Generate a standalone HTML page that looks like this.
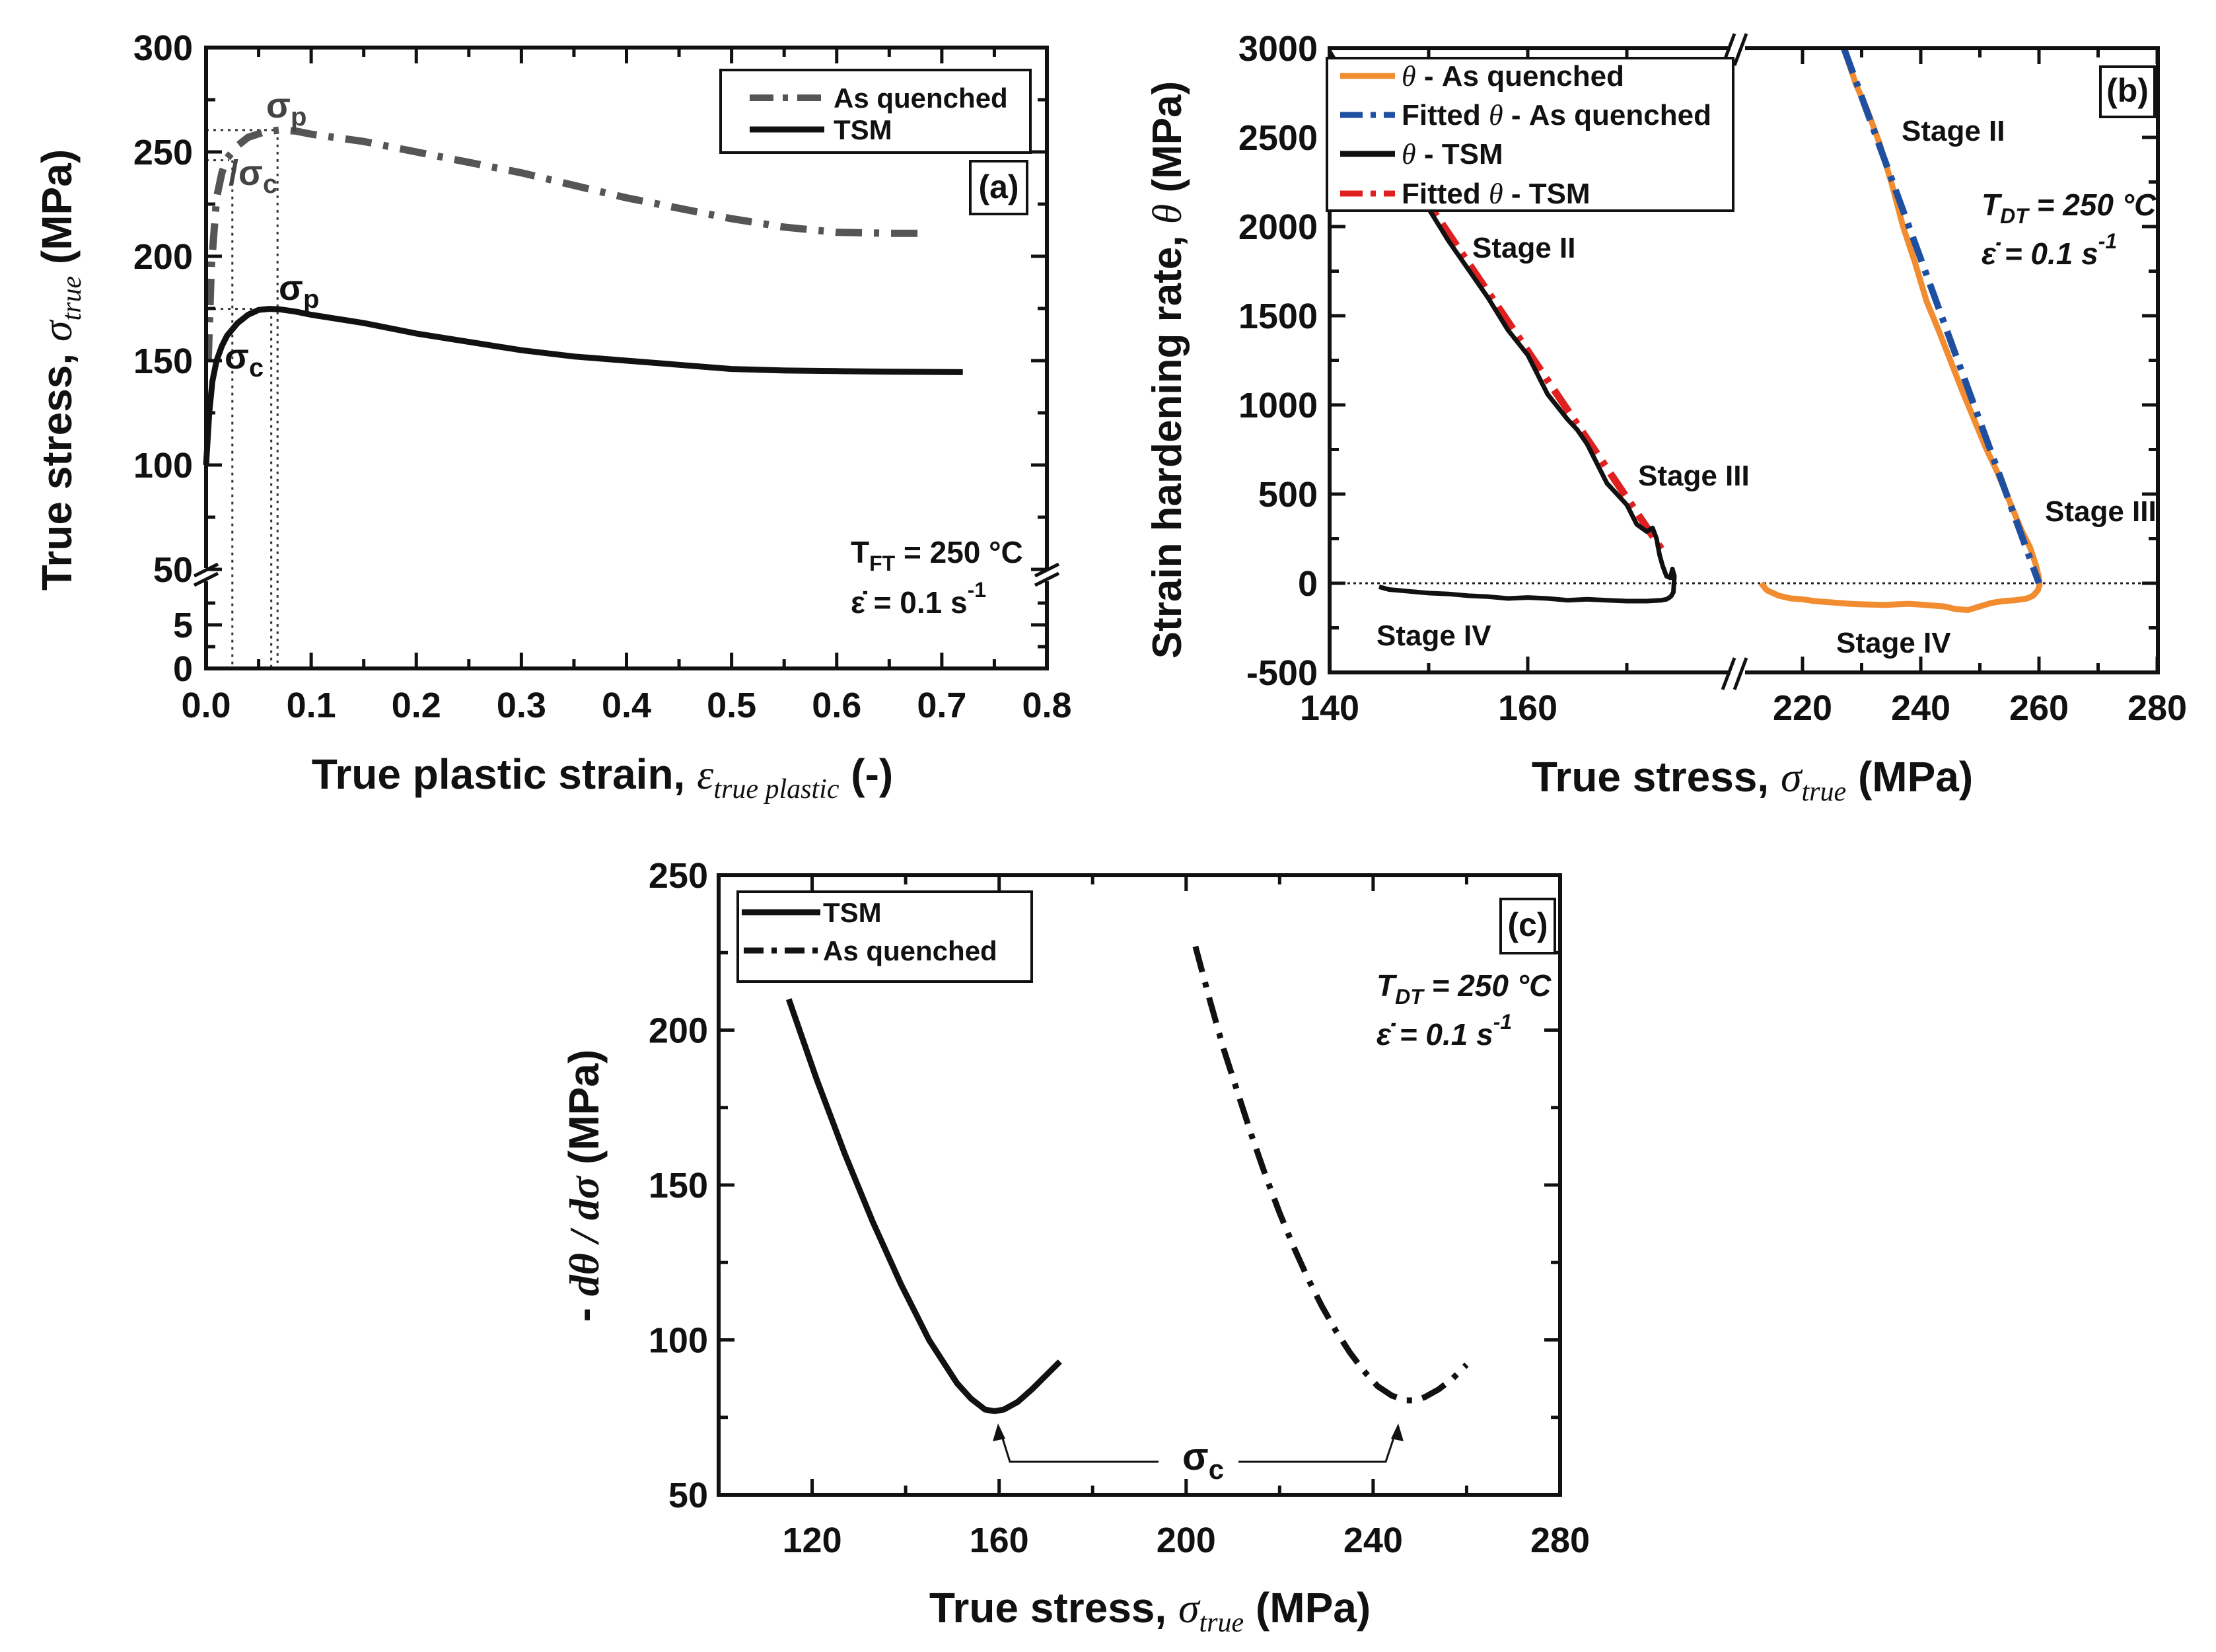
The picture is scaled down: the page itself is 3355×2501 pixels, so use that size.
<!DOCTYPE html>
<html><head><meta charset="utf-8">
<style>
html,body{margin:0;padding:0;background:#fff;}
svg{display:block;}
text{font-family:"Liberation Sans Narrow","Liberation Sans",sans-serif;font-weight:bold;fill:#111;}
</style></head>
<body>
<svg id="fig" width="3355" height="2501" viewBox="0 0 3355 2501" xmlns="http://www.w3.org/2000/svg">
<rect x="0" y="0" width="3355" height="2501" fill="#fff"/>
<g id="ga"></g>
<g id="gb"></g>
<g id="gc"></g>
</svg>
<script>
// ---------- Panel (a) data ----------
const aStrainTSM = [0,0.003,0.006,0.01,0.015,0.02,0.03,0.04,0.05,0.06,0.07,0.085,0.1,0.15,0.2,0.25,0.3,0.35,0.4,0.45,0.5,0.55,0.6,0.65,0.72];
const aStressTSM = [100,125,140,150,157,162,168,172,174.3,174.8,174.6,173.5,172,168,163,159,155,152,150,148,146,145.3,145,144.7,144.5];
const aStrainAQ = [0.002,0.005,0.01,0.015,0.02,0.03,0.04,0.055,0.07,0.085,0.1,0.15,0.2,0.25,0.3,0.35,0.4,0.45,0.5,0.55,0.6,0.65,0.68];
const aStressAQ = [150,195,228,240,247,253,257,259.5,260.5,260,258.5,255,250,245,240,234,228,223,218,214,211.5,211,211];
const aXTicks = [0,0.1,0.2,0.3,0.4,0.5,0.6,0.7,0.8];
const aXTickLabels = ["0.0","0.1","0.2","0.3","0.4","0.5","0.6","0.7","0.8"];
const aYTicksUpper = [50,100,150,200,250,300];
const aYTicksLower = [0,5];

// ---------- Panel (b) data ----------
const bStressTSM = [140,142,144,146,148,150,152,154,156,158,160,162,164,165,166,168,170,171,172,172.6,173,173.3,173.6,174,174.4,174.6,174.8,174.7,174.5,174.3,174,173.5,172,170,168,166,164,162,160,158,156,154,152,150,148,146,145];
const bThetaTSM = [2980,2800,2620,2440,2270,2100,1920,1760,1600,1420,1280,1060,920,860,780,560,440,330,290,310,250,160,100,40,30,80,40,-50,-70,-80,-90,-95,-100,-100,-95,-90,-95,-85,-80,-85,-75,-70,-60,-55,-45,-35,-20];
const bStressTSMFit = [140,174];
const bThetaTSMFit = [2950,150];
const bStressAQ = [227,229,231,233,235,237,239,241,243,245,247,249,251,253,255,257,258.5,259.5,260,260.1,259.8,259,258,256,254,252,250,248,246,244,242,240,238,236,234,232,230,228,226,224,222,220,218,216,214,213];
const bThetaAQ = [3000,2800,2650,2470,2250,2000,1800,1580,1420,1250,1080,920,760,620,460,300,200,100,30,-10,-40,-70,-85,-95,-100,-110,-130,-150,-145,-130,-125,-120,-115,-118,-122,-120,-118,-115,-110,-105,-100,-90,-85,-70,-40,0];
const bStressAQFit = [227,260];
const bThetaAQFit = [3000,0];
const bYTicks = [-500,0,500,1000,1500,2000,2500,3000];
const bXTicksLeft = [140,160];
const bXTicksRight = [220,240,260,280];

// ---------- Panel (c) data ----------
const cStressTSM = [115,118,121,124,127,130,133,136,139,142,145,148,151,154,157,159,161,164,167,170,173];
const cRateTSM = [210,197,184,172,160,149,138,128,118,109,100,93,86,81,77.5,77,77.5,80,84,88.5,93];
const cStressAQ = [202,205,208,211,214,217,220,223,226,229,232,235,238,241,244,247,249,251,254,257,260];
const cRateAQ = [227,210,194,180,166,153,141,130,120,111,103,96,90,85,82,80.5,80.5,81.5,84,87.5,92];
const cXTicks = [120,160,200,240,280];
const cYTicks = [50,100,150,200,250];

const NS = "http://www.w3.org/2000/svg";
const TF = 54;
function mk(parent, tag, attrs){
  const e = document.createElementNS(NS, tag);
  for (const k in attrs) e.setAttribute(k, attrs[k]);
  parent.appendChild(e);
  return e;
}
function pts(xs, ys, fx, fy){
  let s = [];
  for (let i=0;i<xs.length;i++) s.push(fx(xs[i]).toFixed(1)+","+fy(ys[i]).toFixed(1));
  return s.join(" ");
}
function txt(parent, x, y, str, size, anchor, extra){
  const t = mk(parent, "text", Object.assign({x:x, y:y, "font-size":size, "text-anchor":anchor||"start"}, extra||{}));
  t.textContent = str;
  return t;
}

// ================= PANEL A =================
(function(){
  const g = document.getElementById("ga");
  const L=312, R=1585, T=72, B=1012, BRK=868;
  const fx = v => L + v*(R-L)/0.8;
  const fy = v => v>=50 ? T + (300-v)*3.16 : B - v*13.2;
  const guides = mk(g,"g",{stroke:"#333","stroke-width":3,"stroke-dasharray":"4,7",fill:"none"});
  
  
  mk(guides,"line",{x1:L,y1:fy(260.5),x2:fx(0.068),y2:fy(260.5)});
  mk(guides,"line",{x1:L,y1:fy(246),x2:fx(0.022),y2:fy(246)});
  mk(guides,"line",{x1:L,y1:fy(174.8),x2:fx(0.068),y2:fy(174.8)});
  mk(guides,"line",{x1:fx(0.025),y1:fy(246),x2:fx(0.025),y2:B});
  mk(guides,"line",{x1:fx(0.062),y1:fy(174.8),x2:fx(0.062),y2:B});
  mk(guides,"line",{x1:fx(0.068),y1:fy(260.5),x2:fx(0.068),y2:B});
  const aq = mk(g,"polyline",{points:pts(aStrainAQ,aStressAQ,fx,fy),fill:"none",stroke:"#555","stroke-width":11,"stroke-dasharray":"40,18,8,18","stroke-linecap":"butt"});
  
  
  const tsm = mk(g,"polyline",{points:pts(aStrainTSM,aStressTSM,fx,fy),fill:"none",stroke:"#111","stroke-width":9,"stroke-linejoin":"round"});
  
  
  const fr = mk(g,"g",{stroke:"#111","stroke-width":6,fill:"none"});
  
  
  mk(fr,"path",{d:`M${L},${BRK-8} L${L},${T} L${R},${T} L${R},${BRK-8} M${L},${BRK+12} L${L},${B} L${R},${B} L${R},${BRK+12}`});
  mk(fr,"path",{d:`M${L-18},${BRK+4} L${L+18},${BRK-14} M${L-18},${BRK+18} L${L+18},${BRK}`,"stroke-width":5});
  mk(fr,"path",{d:`M${R-18},${BRK+4} L${R+18},${BRK-14} M${R-18},${BRK+18} L${R+18},${BRK}`,"stroke-width":5});
  const tk = mk(g,"g",{stroke:"#111","stroke-width":5});
  for (let v=0; v<=0.8001; v+=0.05){
    const maj = Math.abs(v*10-Math.round(v*10))<1e-6;
    const len = maj?24:14;
    mk(tk,"line",{x1:fx(v),y1:B,x2:fx(v),y2:B-len});
    mk(tk,"line",{x1:fx(v),y1:T,x2:fx(v),y2:T+len});
  }
  for (let v=50; v<=300; v+=25){
    const len = v%50===0?24:14;
    mk(tk,"line",{x1:L,y1:fy(v),x2:L+len,y2:fy(v)});
    mk(tk,"line",{x1:R,y1:fy(v),x2:R-len,y2:fy(v)});
  }
  for (let v=0; v<=7.5; v+=2.5){
    const len = v%5===0?24:14;
    mk(tk,"line",{x1:L,y1:fy(v),x2:L+len,y2:fy(v)});
    mk(tk,"line",{x1:R,y1:fy(v),x2:R-len,y2:fy(v)});
  }
  aXTicks.forEach((v,i)=>{ const t=txt(g,fx(v),1086,aXTickLabels[i],TF,"middle");
      });
  aYTicksUpper.forEach(v=>{ const t=txt(g,292,fy(v)+19,String(v),TF,"end");
      });
  aYTicksLower.forEach(v=>{ const t=txt(g,292,fy(v)+19,String(v),TF,"end");
      });
  const xt = mk(g,"text",{x:912,y:1194,"font-size":64,"text-anchor":"middle","font-family":"Liberation Sans, sans-serif"});
   
  xt.innerHTML = 'True plastic strain, <tspan font-family="Liberation Serif, serif" font-style="italic" font-weight="normal">ε</tspan><tspan font-family="Liberation Serif, serif" font-style="italic" font-weight="normal" font-size="42" dy="14">true plastic</tspan><tspan dy="-14"> (-)</tspan>';
  const yt = mk(g,"text",{x:0,y:0,"font-size":64,"text-anchor":"middle","font-family":"Liberation Sans, sans-serif",transform:"translate(108,560) rotate(-90)"});
   
  yt.innerHTML = 'True stress, <tspan font-family="Liberation Serif, serif" font-style="italic" font-weight="normal">σ</tspan><tspan font-family="Liberation Serif, serif" font-style="italic" font-weight="normal" font-size="42" dy="14">true</tspan><tspan dy="-14"> (MPa)</tspan>';
  const an = mk(g,"g",{});
   
  an.innerHTML = '<text x="403" y="178" font-size="54" style="fill:#444">σ<tspan font-size="40" dy="12">p</tspan></text>'+
    '<text x="346" y="280" font-size="54" style="fill:#444">/σ<tspan font-size="40" dy="12">c</tspan></text>'+
    '<text x="422" y="454" font-size="54">σ<tspan font-size="40" dy="12">p</tspan></text>'+
    '<text x="340" y="558" font-size="54">σ<tspan font-size="40" dy="12">c</tspan></text>';
  const lg = mk(g,"g",{});
   
  mk(lg,"rect",{x:1091,y:106,width:469,height:125,fill:"#fff",stroke:"#111","stroke-width":4});
  mk(lg,"line",{x1:1135,y1:148,x2:1245,y2:148,stroke:"#555","stroke-width":10,"stroke-dasharray":"36,14,8,14"});
  txt(lg,1262,163,"As quenched",42,"start");
  mk(lg,"line",{x1:1135,y1:196,x2:1248,y2:196,stroke:"#111","stroke-width":9});
  txt(lg,1262,211,"TSM",42,"start");
  const lb = mk(g,"g",{});
   
  mk(lb,"rect",{x:1469,y:244,width:86,height:80,fill:"#fff",stroke:"#111","stroke-width":4});
  txt(lb,1512,300,"(a)",50,"middle");
  const cond = mk(g,"text",{x:1288,y:852,"font-size":46});
   
  cond.innerHTML = 'T<tspan font-size="32" dy="12">FT</tspan><tspan dy="-12"> = 250 °C</tspan>';
  const cond2 = mk(g,"text",{x:1288,y:928,"font-size":46});
   
  cond2.innerHTML = 'ε̇ = 0.1 s<tspan font-size="32" dy="-24">-1</tspan>';
})();

// ================= PANEL B =================
(function(){
  const g = document.getElementById("gb");
  const L=2013, R=3267, T=73, B=1018, BRK=2630;
  const fx = v => v<195 ? L + (v-140)*15 : 3087 + (v-260)*8.95;
  const fy = v => T + (3000-v)*0.27;
  mk(g,"line",{x1:L,y1:fy(0),x2:R,y2:fy(0),stroke:"#222","stroke-width":3,"stroke-dasharray":"4,5"});
  const cp = mk(g,"clipPath",{id:"clipb"}); mk(cp,"rect",{x:L,y:T,width:R-L,height:B-T});
  const sg = mk(g,"g",{"clip-path":"url(#clipb)"});
  const s1 = mk(sg,"polyline",{points:pts(bStressTSMFit,bThetaTSMFit,fx,fy),fill:"none",stroke:"#e02020","stroke-width":11,"stroke-dasharray":"40,14,8,14"});
   
  const s2 = mk(sg,"polyline",{points:pts(bStressTSM,bThetaTSM,fx,fy),fill:"none",stroke:"#111","stroke-width":7,"stroke-linejoin":"round"});
   
  const s3 = mk(sg,"polyline",{points:pts(bStressAQ,bThetaAQ,fx,fy),fill:"none",stroke:"#f28c30","stroke-width":9,"stroke-linejoin":"round"});
   
  const s4 = mk(sg,"polyline",{points:pts(bStressAQFit,bThetaAQFit,fx,fy),fill:"none",stroke:"#1f4fa0","stroke-width":10,"stroke-dasharray":"40,14,8,14"});
   
  const fr = mk(g,"g",{stroke:"#111","stroke-width":6,fill:"none"});
   
  mk(fr,"path",{d:`M${BRK-10},${T} L${L},${T} L${L},${B} L${BRK-10},${B} M${BRK+12},${T} L${R},${T} L${R},${B} L${BRK+12},${B}`});
  mk(fr,"path",{d:`M${BRK-22},${T+26} L${BRK-4},${T-22} M${BRK-4},${T+26} L${BRK+14},${T-22} M${BRK-22},${B+26} L${BRK-4},${B-22} M${BRK-4},${B+26} L${BRK+14},${B-22}`,"stroke-width":5});
  const tk = mk(g,"g",{stroke:"#111","stroke-width":5});
  for (let v=-500; v<=3000; v+=250){
    const len = v%500===0?24:14;
    mk(tk,"line",{x1:L,y1:fy(v),x2:L+len,y2:fy(v)});
    mk(tk,"line",{x1:R,y1:fy(v),x2:R-len,y2:fy(v)});
  }
  [140,150,160,170,230,250,270,220,240,260,280].forEach(v=>{
    const len = (v%20===0)?24:14;
    mk(tk,"line",{x1:fx(v),y1:B,x2:fx(v),y2:B-len});
    mk(tk,"line",{x1:fx(v),y1:T,x2:fx(v),y2:T+len});
  });
  bYTicks.forEach(v=>{ const t=txt(g,1995,fy(v)+19,String(v),TF,"end");
      });
  bXTicksLeft.concat(bXTicksRight).forEach(v=>{ const t=txt(g,fx(v),1090,String(v),TF,"middle");
      });
  const xt = mk(g,"text",{x:2653,y:1198,"font-size":64,"text-anchor":"middle","font-family":"Liberation Sans, sans-serif"});
   
  xt.innerHTML = 'True stress, <tspan font-family="Liberation Serif, serif" font-style="italic" font-weight="normal">σ</tspan><tspan font-family="Liberation Serif, serif" font-style="italic" font-weight="normal" font-size="42" dy="14">true</tspan><tspan dy="-14"> (MPa)</tspan>';
  const yt = mk(g,"text",{x:0,y:0,"font-size":62,"text-anchor":"middle","font-family":"Liberation Sans, sans-serif",transform:"translate(1788,560) rotate(-90)"});
   
  yt.innerHTML = 'Strain hardening rate, <tspan font-family="Liberation Serif, serif" font-style="italic" font-weight="normal">θ</tspan> (MPa)';
  const st = mk(g,"g",{});
   
  [["Stage II",2229,390],["Stage III",2480,735],["Stage IV",2084,977],["Stage II",2879,213],["Stage III",3096,789],["Stage IV",2780,988]].forEach(a=>txt(st,a[1],a[2],a[0],44,"start"));
  const lg = mk(g,"g",{});
   
  mk(lg,"rect",{x:2009,y:88,width:615,height:231,fill:"#fff",stroke:"#111","stroke-width":4});
  const rows=[[115,"#f28c30",null," - As quenched",""],[174,"#1f4fa0","34,12,8,12"," - As quenched","Fitted "],[233,"#111",null," - TSM",""],[293,"#e02020","34,12,8,12"," - TSM","Fitted "]];
  rows.forEach(r=>{
    const ln = mk(lg,"line",{x1:2029,y1:r[0],x2:2112,y2:r[0],stroke:r[1],"stroke-width":9});
    if(r[2]) ln.setAttribute("stroke-dasharray",r[2]);
    const t = mk(lg,"text",{x:2122,y:r[0]+15,"font-size":44});
    t.innerHTML = r[4]+'<tspan font-family="Liberation Serif, serif" font-style="italic" font-weight="normal">θ</tspan>'+r[3];
  });
  const lb = mk(g,"g",{});
   
  mk(lb,"rect",{x:3180,y:101,width:82,height:76,fill:"#fff",stroke:"#111","stroke-width":4});
  txt(lb,3221,154,"(b)",50,"middle");
  const c1 = mk(g,"text",{x:3000,y:326,"font-size":46,"font-style":"italic"});
   
  c1.innerHTML = 'T<tspan font-size="32" dy="12">DT</tspan><tspan dy="-12"> = 250 °C</tspan>';
  const c2 = mk(g,"text",{x:3000,y:400,"font-size":46,"font-style":"italic"});
   
  c2.innerHTML = 'ε̇ = 0.1 s<tspan font-size="32" dy="-24">-1</tspan>';
})();

// ================= PANEL C =================
(function(){
  const g = document.getElementById("gc");
  const L=1088, R=2362, T=1325, B=2263;
  const fx = v => L + (v-100)*(R-L)/180;
  const fy = v => B - (v-50)*(B-T)/200;
  const s1 = mk(g,"polyline",{points:pts(cStressTSM,cRateTSM,fx,fy),fill:"none",stroke:"#111","stroke-width":9,"stroke-linejoin":"round"});
   
  const s2 = mk(g,"polyline",{points:pts(cStressAQ,cRateAQ,fx,fy),fill:"none",stroke:"#111","stroke-width":9,"stroke-dasharray":"40,16,8,16"});
   
  mk(g,"rect",{x:L,y:T,width:R-L,height:B-T,fill:"none",stroke:"#111","stroke-width":6});
  const tk = mk(g,"g",{stroke:"#111","stroke-width":5});
  for (let v=100; v<=280; v+=20){
    const len = (v%40===0)?24:14;
    mk(tk,"line",{x1:fx(v),y1:B,x2:fx(v),y2:B-len});
    mk(tk,"line",{x1:fx(v),y1:T,x2:fx(v),y2:T+len});
  }
  for (let v=50; v<=250; v+=25){
    const len = (v%50===0)?24:14;
    mk(tk,"line",{x1:L,y1:fy(v),x2:L+len,y2:fy(v)});
    mk(tk,"line",{x1:R,y1:fy(v),x2:R-len,y2:fy(v)});
  }
  cXTicks.forEach(v=>{ const t=txt(g,fx(v),2350,String(v),TF,"middle");
      });
  cYTicks.forEach(v=>{ const t=txt(g,1072,fy(v)+19,String(v),TF,"end");
      });
  const xt = mk(g,"text",{x:1741,y:2456,"font-size":64,"text-anchor":"middle","font-family":"Liberation Sans, sans-serif"});
   
  xt.innerHTML = 'True stress, <tspan font-family="Liberation Serif, serif" font-style="italic" font-weight="normal">σ</tspan><tspan font-family="Liberation Serif, serif" font-style="italic" font-weight="normal" font-size="42" dy="14">true</tspan><tspan dy="-14"> (MPa)</tspan>';
  const yt = mk(g,"text",{x:0,y:0,"font-size":64,"text-anchor":"middle","font-family":"Liberation Sans, sans-serif",transform:"translate(906,1795) rotate(-90)"});
   
  yt.innerHTML = '- <tspan font-family="Liberation Serif, serif" font-style="italic">dθ / dσ</tspan> (MPa)';
  const ar = mk(g,"g",{stroke:"#111","stroke-width":3,fill:"none"});
   
  mk(ar,"path",{d:"M1754,2213 L1529,2213 L1514,2165"});
  mk(ar,"path",{d:"M1875,2213 L2098,2213 L2114,2165"});
  mk(g,"path",{d:"M1511,2155 L1503,2182 L1522,2178 Z",fill:"#111"});
  mk(g,"path",{d:"M2117,2155 L2106,2178 L2125,2182 Z",fill:"#111"});
  const sc = mk(g,"text",{x:1790,y:2225,"font-size":58});
   
  sc.innerHTML = 'σ<tspan font-size="42" dy="14">c</tspan>';
  const lg = mk(g,"g",{});
   
  mk(lg,"rect",{x:1117,y:1350,width:445,height:136,fill:"#fff",stroke:"#111","stroke-width":4});
  mk(lg,"line",{x1:1123,y1:1381,x2:1242,y2:1381,stroke:"#111","stroke-width":9});
  txt(lg,1246,1396,"TSM",42,"start");
  mk(lg,"line",{x1:1126,y1:1439,x2:1242,y2:1439,stroke:"#111","stroke-width":9,"stroke-dasharray":"30,12,8,12"});
  txt(lg,1246,1454,"As quenched",42,"start");
  const lb = mk(g,"g",{});
   
  mk(lb,"rect",{x:2272,y:1361,width:82,height:82,fill:"#fff",stroke:"#111","stroke-width":4});
  txt(lb,2313,1417,"(c)",50,"middle");
  const c1 = mk(g,"text",{x:2084,y:1508,"font-size":46,"font-style":"italic"});
   
  c1.innerHTML = 'T<tspan font-size="32" dy="12">DT</tspan><tspan dy="-12"> = 250 °C</tspan>';
  const c2 = mk(g,"text",{x:2084,y:1582,"font-size":46,"font-style":"italic"});
   
  c2.innerHTML = 'ε̇ = 0.1 s<tspan font-size="32" dy="-24">-1</tspan>';
})();
</script>
</body></html>
